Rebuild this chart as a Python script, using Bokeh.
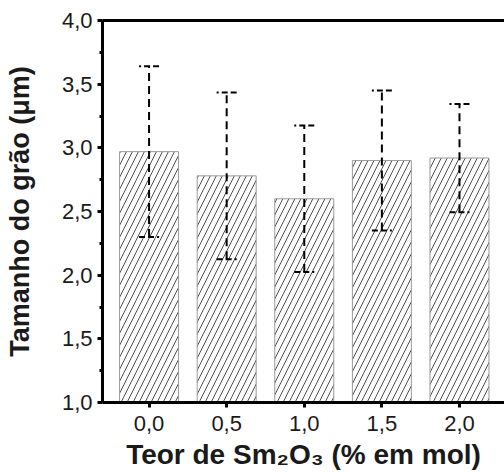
from bokeh.plotting import figure
from bokeh.models import (ColumnDataSource, Whisker, TeeHead, FixedTicker, LinearAxis, Range1d)
from bokeh.embed import file_html
from bokeh.resources import INLINE

# data
x_vals = [0.0, 0.5, 1.0, 1.5, 2.0]
grain_size = [2.97, 2.78, 2.60, 2.90, 2.92]
grain_err = [0.67, 0.655, 0.575, 0.55, 0.425]
y_ticks = [1.0, 1.5, 2.0, 2.5, 3.0, 3.5, 4.0]
y_tick_labels = ["1,0", "1,5", "2,0", "2,5", "3,0", "3,5", "4,0"]
y_minor = [1.25, 1.75, 2.25, 2.75, 3.25, 3.75]
x_ticks = [0.0, 0.5, 1.0, 1.5, 2.0]
x_tick_labels = ["0,0", "0,5", "1,0", "1,5", "2,0"]

upper = [m + e for m, e in zip(grain_size, grain_err)]
lower = [m - e for m, e in zip(grain_size, grain_err)]
src = ColumnDataSource(dict(x=x_vals, top=grain_size, upper=upper, lower=lower))

FONT = "Liberation Sans"
TXT = "#1a1a1a"

p = figure(width=504, height=472, output_backend="svg", toolbar_location=None,
           x_range=Range1d(-0.3, 2.29), y_range=Range1d(1.0, 4.0),
           min_border_left=102, min_border_right=0, min_border_top=20, min_border_bottom=70)
p.outline_line_color = None
p.xgrid.visible = False
p.ygrid.visible = False
p.background_fill_color = "white"

p.vbar(x="x", top="top", bottom=1.0, width=0.38, source=src,
       fill_color="white", line_color="#9a9a9a", line_width=1,
       hatch_pattern="/", hatch_color="#3a3a3a", hatch_scale=12, hatch_weight=0.9)

wh = Whisker(base="x", upper="upper", lower="lower", source=src, level="overlay",
             line_color="black", line_width=2, line_dash="8 5",
             upper_head=TeeHead(size=20, line_width=2, line_color="black", line_dash="6 3"),
             lower_head=TeeHead(size=20, line_width=2, line_color="black", line_dash="6 3"))
p.add_layout(wh)

# axes styling
for ax in (p.xaxis[0], p.yaxis[0]):
    ax.axis_line_width = 3
    ax.axis_line_color = "black"
    ax.major_tick_line_width = 3
    ax.major_tick_out = 5
    ax.major_tick_in = 0
    ax.major_label_text_font = FONT
    ax.major_label_text_font_size = "22px"
    ax.major_label_text_color = TXT
    ax.axis_label_text_font = FONT
    ax.axis_label_text_font_style = "bold"
    ax.axis_label_text_color = TXT

p.yaxis[0].ticker = FixedTicker(ticks=y_ticks, minor_ticks=y_minor)
p.yaxis[0].major_label_overrides = dict(zip(y_ticks, y_tick_labels))
p.yaxis[0].minor_tick_line_width = 3
p.yaxis[0].minor_tick_out = 3
p.yaxis[0].minor_tick_in = 0
p.yaxis[0].major_label_standoff = 5
p.yaxis[0].axis_label = "Tamanho do grão (μm)"
p.yaxis[0].axis_label_text_font_size = "27px"
p.yaxis[0].axis_label_standoff = 24

p.xaxis[0].ticker = FixedTicker(ticks=x_ticks, minor_ticks=[])
p.xaxis[0].major_label_standoff = 8
p.xaxis[0].major_label_overrides = dict(zip(x_ticks, x_tick_labels))
p.xaxis[0].axis_label = "Teor de Sm₂O₃ (% em mol)"
p.xaxis[0].axis_label_text_font_size = "28px"
p.xaxis[0].axis_label_standoff = 5

top_ax = LinearAxis(ticker=FixedTicker(ticks=[]), axis_line_width=3, axis_line_color="black",
                    major_label_text_font_size="0px", major_tick_line_color=None,
                    minor_tick_line_color=None)
p.add_layout(top_ax, "above")

open("out.html", "w").write(file_html(p, INLINE))
